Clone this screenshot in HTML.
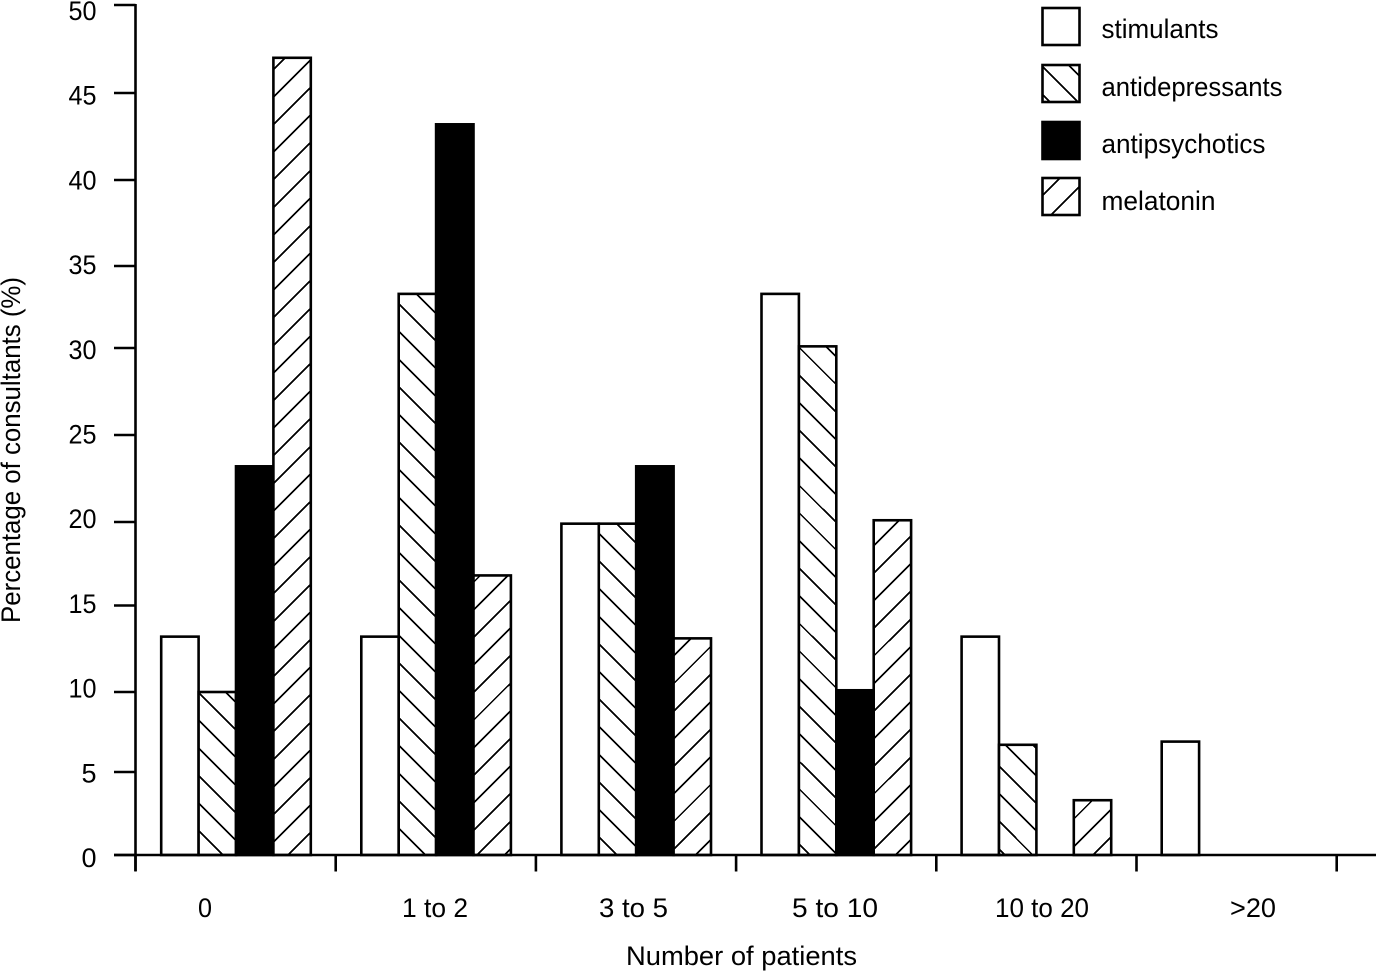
<!DOCTYPE html>
<html lang="en">
<head>
<meta charset="utf-8">
<title>Number of patients by medication</title>
<style>
html,body{margin:0;padding:0;background:#fff;width:1376px;height:972px;overflow:hidden}
svg{display:block}
text{font-family:"Liberation Sans",sans-serif;font-size:27px;fill:#000}
</style>
</head>
<body>
<svg id="chart" xmlns="http://www.w3.org/2000/svg" width="1376" height="972" viewBox="0 0 1376 972">
<defs id="clips"></defs>
<text transform="translate(20,450) rotate(-90)" text-anchor="middle" textLength="346" lengthAdjust="spacingAndGlyphs">Percentage of consultants (%)</text>
<text x="741.5" y="965" text-anchor="middle" textLength="231" lengthAdjust="spacingAndGlyphs">Number of patients</text>
</svg>
<script>
// ---- chart data ----
const categories = ["0", "1 to 2", "3 to 5", "5 to 10", "10 to 20", ">20"];
const seriesNames = ["stimulants", "antidepressants", "antipsychotics", "melatonin"];
const stimulants = [13.2, 13.2, 19.9, 33.3, 13.2, 6.9];
const antidepressants = [10, 33.3, 19.9, 30.1, 6.7, 0];
const antipsychotics = [23.2, 43.2, 23.2, 10.1, 0, 0];
const melatonin = [47, 16.8, 13.1, 20.1, 3.3, 0];
const yTickValues = [50, 45, 40, 35, 30, 25, 20, 15, 10, 5, 0];
const yTickLabels = ["50", "45", "40", "35", "30", "25", "20", "15", "10", "5", "0"];

// ---- axis functions (the source figure's y axis is slightly uneven) ----
function yScale(v) {
  const stops = [[0, 855], [5, 772], [10, 692], [15, 605.5], [20, 522], [25, 435], [30, 348], [35, 266], [40, 180], [45, 93], [50, 5]];
  const c = Math.max(0, Math.min(50, v));
  for (let i = 0; i < stops.length - 1; i++) {
    const a = stops[i], b = stops[i + 1];
    if (c <= b[0]) return a[1] + (c - a[0]) / (b[0] - a[0]) * (b[1] - a[1]);
  }
  return 5;
}
function groupLeft(g) { return 161.2 + 200.1 * g; }
function barX(g, s) { return groupLeft(g) + 37.4 * s; }
function xTickX(i) { return 135.5 + 200.2 * i; }

const BAR_W = 37.4, HATCH = 27.6;
const svg = document.getElementById('chart');
const clips = document.getElementById('clips');
const NS = 'http://www.w3.org/2000/svg';
function mk(tag, attrs, parent) {
  const e = document.createElementNS(NS, tag);
  for (const k in attrs) e.setAttribute(k, attrs[k]);
  (parent || svg).appendChild(e);
  return e;
}
let clipId = 0;
function hatch(x, y, w, h, dir, phase, parent) {
  const id = 'c' + (clipId++);
  const cp = mk('clipPath', { id: id }, clips);
  mk('rect', { x: x, y: y, width: w, height: h }, cp);
  const g = mk('g', { 'clip-path': 'url(#' + id + ')' }, parent);
  
  
  const low = y - w - HATCH, high = y + h + w + HATCH;
  const k0 = Math.floor((low - phase) / HATCH);
  for (let k = k0; phase + k * HATCH < high; k++) {
    const yy = phase + k * HATCH;
    const ln = mk('line', { x1: x, y1: yy, x2: x + w, y2: yy + dir * w, stroke: '#000', 'stroke-width': 1.7, 'shape-rendering': 'crispEdges' }, g);
    
    
  }
}

// hatch offsets per group (rendering detail, not data)
const hatchOffsets = {
  1: [2.7, 0.2, 8.9, 15.9, 20.8, 20.8],
  3: [14.2, 2.7, 21.3, 21.3, 18.6, 18.6]
};
const allSeries = [stimulants, antidepressants, antipsychotics, melatonin];

// bars
categories.forEach(function (cat, g) {
  allSeries.forEach(function (values, s) {
    const v = values[g];
    if (!(v > 0)) return;
    const x = barX(g, s), top = yScale(v), h = yScale(0) - top;
    const grp = mk('g', {});
    
    
    mk('rect', { x: x, y: top, width: BAR_W, height: h, fill: s === 2 ? '#000' : '#fff' }, grp);
    if (s === 1) hatch(x, top, BAR_W, h, 1, hatchOffsets[1][g], grp);
    if (s === 3) hatch(x, top, BAR_W, h, -1, hatchOffsets[3][g], grp);
    mk('rect', { x: x, y: top, width: BAR_W, height: h, fill: 'none', stroke: '#000', 'stroke-width': 2.6 }, grp);
  });
});

// y axis
const yAxis = mk('line', { x1: 135.5, y1: 4, x2: 135.5, y2: 871, stroke: '#000', 'stroke-width': 2.6 });


yTickValues.forEach(function (v, i) {
  const t = mk('line', { x1: 114, y1: yScale(v), x2: 135.5, y2: yScale(v), stroke: '#000', 'stroke-width': 2.4 });
  
  
  const label = yTickLabels[i];
  const lb = mk('text', { x: 96.5, y: 20 + 84.7 * i, 'text-anchor': 'end' });
  if (label.length === 2) { lb.setAttribute('textLength', '28'); lb.setAttribute('lengthAdjust', 'spacingAndGlyphs'); }
  lb.textContent = label;
  
  
});

// x axis
const xAxis = mk('line', { x1: 114, y1: 855, x2: 1376, y2: 855, stroke: '#000', 'stroke-width': 2.4 });


for (let i = 0; i <= categories.length; i++) {
  const t = mk('line', { x1: xTickX(i), y1: 855, x2: xTickX(i), y2: 871.5, stroke: '#000', 'stroke-width': 2.6 });
  
  
}
const xLabelCentres = [205, 435, 633.5, 835, 1042, 1253];
const xLabelWidths = [14, 66, 69, 86, 94, 46];
categories.forEach(function (cat, i) {
  const lb = mk('text', { x: xLabelCentres[i], y: 917, 'text-anchor': 'middle', textLength: xLabelWidths[i], lengthAdjust: 'spacingAndGlyphs' });
  lb.textContent = cat;
  
  
});

// legend
const legendY = [8, 65, 122, 178];
const legendBase = [38, 96, 153, 210];
const legendW = [117, 181, 164, 114];
const legendPhase = [0, 11.5, 0, 2.5];
seriesNames.forEach(function (name, s) {
  const grp = mk('g', {});
  
  
  const x = 1042.5, y = legendY[s], w = 37, h = 37;
  mk('rect', { x: x, y: y, width: w, height: h, fill: s === 2 ? '#000' : '#fff' }, grp);
  if (s === 1) hatch(x, y, w, h, 1, legendPhase[s], grp);
  if (s === 3) hatch(x, y, w, h, -1, legendPhase[s], grp);
  mk('rect', { x: x, y: y, width: w, height: h, fill: 'none', stroke: '#000', 'stroke-width': 2.6 }, grp);
  const lb = mk('text', { x: 1101.5, y: legendBase[s], textLength: legendW[s], lengthAdjust: 'spacingAndGlyphs' }, grp);
  lb.textContent = name;
  
  
});
</script>
</body>
</html>
